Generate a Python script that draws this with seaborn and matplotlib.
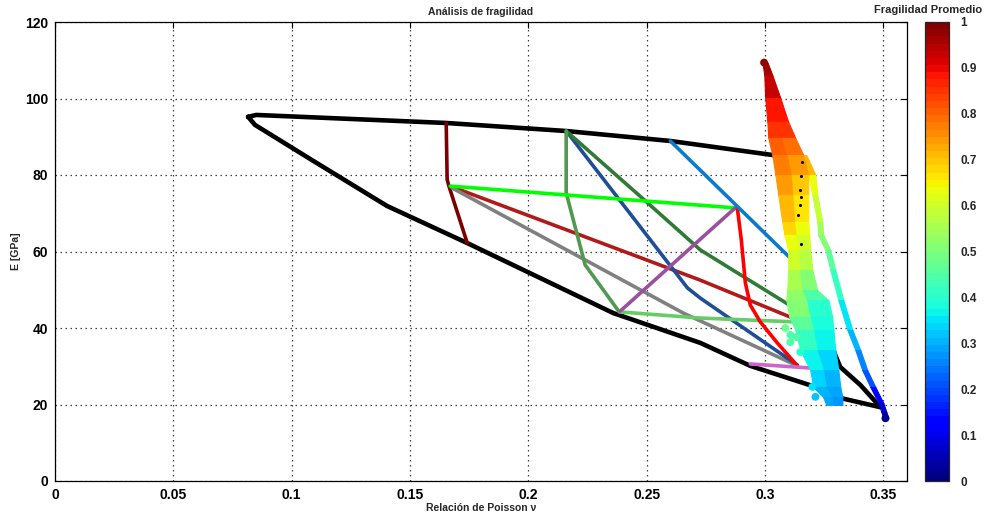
import matplotlib
matplotlib.use('Agg')
import matplotlib.pyplot as plt
import seaborn as sns
import numpy as np
from matplotlib.colors import Normalize
from matplotlib.cm import ScalarMappable

# ---------------- data ----------------
# black envelope
boundary_v = [0.0816, 0.0850, 0.1653, 0.2160, 0.2600, 0.3035, 0.3158, 0.3149, 0.3213,
              0.3297, 0.3318, 0.3403, 0.3479, 0.3487, 0.3263, 0.3213, 0.2938, 0.2727,
              0.2359, 0.1742, 0.1403, 0.1091, 0.0845, 0.0816]
boundary_E = [95.2, 95.7, 93.6, 91.5, 88.9, 85.2, 83.4, 69.5, 47.3,
              32.9, 29.8, 25.1, 19.9, 19.3, 22.5, 24.6, 30.1, 36.1,
              43.9, 62.2, 71.9, 83.7, 93.1, 95.2]

maroon_v = [0.1653, 0.1657, 0.1665, 0.1742]
maroon_E = [93.6, 78.8, 77.0, 62.2]
lime_v = [0.1670, 0.2874]
lime_E = [77.1, 71.4]
firebrick_v = [0.1678, 0.2727, 0.3137]
firebrick_E = [76.9, 52.5, 42.1]
gray_v = [0.1678, 0.2655, 0.3137]
gray_E = [76.6, 43.9, 30.1]
medgreen_v = [0.2160, 0.2160, 0.2240, 0.2384]
medgreen_E = [91.5, 75.3, 56.5, 44.2]
navy_v = [0.2164, 0.2672, 0.2727, 0.3137]
navy_E = [91.2, 50.5, 47.8, 30.3]
darkgreen_v = [0.2160, 0.2486, 0.2727, 0.3137]
darkgreen_E = [91.5, 73.7, 60.4, 44.7]
lightgreen_v = [0.2388, 0.2727, 0.3128]
lightgreen_E = [44.2, 42.6, 41.6]
purple_v = [0.2388, 0.2874]
purple_E = [44.4, 71.4]
red_v = [0.2883, 0.2900, 0.2917, 0.2938, 0.2980, 0.3052, 0.3137]
red_E = [71.4, 63.0, 51.8, 46.0, 41.6, 36.1, 30.1]
blue_v = [0.2600, 0.3128]
blue_E = [88.9, 57.0]
orchid_v = [0.2938, 0.3200]
orchid_E = [30.6, 29.5]

# main point cloud, described row by row:
# E level, left / middle / right edge, fragility on the left and right half
cloud_E = [109.5, 106.1, 100.1, 93.9, 89.7, 85.2, 80.0, 74.8, 67.7, 64.3, 60.4,
           55.2, 49.9, 47.3, 42.9, 39.5, 34.2, 29.0, 24.6, 21.9, 19.9]
cloud_left = [0.2989, 0.2997, 0.3001, 0.3010, 0.3014, 0.3031, 0.3044, 0.3056, 0.3073,
              0.3082, 0.3098, 0.3098, 0.3094, 0.3090, 0.3103, 0.3128, 0.3149, 0.3191,
              0.3204, 0.3246, 0.3259]
cloud_mid = [0.2999, 0.3014, 0.3033, 0.3054, 0.3071, 0.3096, 0.3113, 0.3120, 0.3128,
             0.3134, 0.3145, 0.3149, 0.3158, 0.3179, 0.3193, 0.3208, 0.3223, 0.3250,
             0.3261, 0.3286, 0.3293]
cloud_right = [0.3010, 0.3031, 0.3065, 0.3098, 0.3128, 0.3162, 0.3183, 0.3183, 0.3183,
               0.3187, 0.3191, 0.3200, 0.3221, 0.3268, 0.3284, 0.3289, 0.3297, 0.3310,
               0.3318, 0.3327, 0.3327]
cloud_frag_left = [0.97, 0.95, 0.91, 0.87, 0.83, 0.79, 0.76, 0.73, 0.69, 0.66, 0.62,
                   0.58, 0.54, 0.52, 0.48, 0.44, 0.39, 0.35, 0.32, 0.30, 0.28]
cloud_frag_right = [0.97, 0.95, 0.91, 0.87, 0.82, 0.77, 0.72, 0.68, 0.64, 0.62, 0.59,
                    0.54, 0.47, 0.42, 0.39, 0.37, 0.35, 0.32, 0.30, 0.28, 0.27]

# thin trail on the right of the cloud
trail_E = [85.2, 80.0, 74.8, 67.7, 64.3, 60.4, 55.2, 47.3, 39.5, 34.2, 29.0, 24.6,
           20.4, 18.0, 16.5]
trail_left = [0.3162, 0.3183, 0.3200, 0.3221, 0.3225, 0.3255, 0.3276, 0.3310, 0.3348,
              0.3382, 0.3411, 0.3445, 0.3479, 0.3492, 0.3500]
trail_right = [0.3175, 0.3213, 0.3221, 0.3242, 0.3246, 0.3276, 0.3297, 0.3331, 0.3369,
               0.3403, 0.3432, 0.3466, 0.3500, 0.3513, 0.3521]
trail_frag = [0.75, 0.66, 0.61, 0.56, 0.52, 0.48, 0.44, 0.38, 0.32, 0.28, 0.24, 0.17,
              0.10, 0.05, 0.02]

# loose points
dots_v = [0.3086, 0.3107, 0.3132, 0.3107, 0.3149, 0.3200, 0.3213, 0.3509, 0.2996]
dots_E = [40.0, 38.2, 37.6, 36.3, 33.7, 24.6, 22.0, 16.4, 109.4]
dots_frag = [0.47, 0.45, 0.45, 0.44, 0.40, 0.35, 0.32, 0.02, 0.97]

specks_v = [0.3158, 0.3153, 0.3149, 0.3153, 0.3149, 0.3140, 0.3153]
specks_E = [83.4, 79.7, 76.1, 74.2, 72.2, 69.5, 62.0]

x_ticks = [0, 0.05, 0.1, 0.15, 0.2, 0.25, 0.3, 0.35]
x_ticklabels = ['0', '0.05', '0.1', '0.15', '0.2', '0.25', '0.3', '0.35']
y_ticks = [0, 20, 40, 60, 80, 100, 120]
cb_ticks = [0, 0.1, 0.2, 0.3, 0.4, 0.5, 0.6, 0.7, 0.8, 0.9, 1.0]
cb_ticklabels = ['0', '0.1', '0.2', '0.3', '0.4', '0.5', '0.6', '0.7', '0.8', '0.9', '1']

# ---------------- figure ----------------
sns.set_style('white')
plt.rcParams['font.family'] = ['Liberation Sans', 'DejaVu Sans']
plt.rcParams['font.weight'] = 'bold'

W, H = 994, 516
fig = plt.figure(figsize=(W / 100, H / 100), dpi=100)
ax = fig.add_axes([55 / W, 35 / H, 852 / W, 459 / H])
cax = fig.add_axes([925 / W, 35 / H, 24 / W, 459 / H])

cmap = plt.get_cmap('jet', 64)
norm = Normalize(0, 1)


def draw_line(v, E, color, lw):
    sns.lineplot(x=v, y=E, sort=False, estimator=None, color=color, linewidth=lw, ax=ax)
    ln = ax.lines[-1]
    ln.set_solid_joinstyle('round')
    ln.set_solid_capstyle('round')


draw_line(boundary_v, boundary_E, 'black', 3.3)
draw_line(maroon_v, maroon_E, '#7a0000', 2.6)
draw_line(firebrick_v, firebrick_E, '#b01a1a', 2.6)
draw_line(gray_v, gray_E, '#808080', 2.6)
draw_line(navy_v, navy_E, '#1f4e96', 2.6)
draw_line(darkgreen_v, darkgreen_E, '#2f7a34', 2.6)
draw_line(medgreen_v, medgreen_E, '#4f9a4f', 2.6)
draw_line(lightgreen_v, lightgreen_E, '#66cc66', 2.6)
draw_line(lime_v, lime_E, '#00ff00', 2.6)
draw_line(purple_v, purple_E, '#9b4f9f', 2.6)
draw_line(red_v, red_E, '#ff0000', 2.6)
draw_line(blue_v, blue_E, '#0a7acc', 2.6)
draw_line(orchid_v, orchid_E, '#cc66cc', 2.6)


def band(E, a, b, fr):
    for i in range(len(E) - 1):
        c = cmap(norm((fr[i] + fr[i + 1]) / 2))
        ax.fill_betweenx([E[i], E[i + 1]], [a[i], a[i + 1]], [b[i], b[i + 1]],
                         color=c, linewidth=0.8, edgecolor=c, zorder=5)


band(trail_E, trail_left, trail_right, trail_frag)
band(cloud_E, cloud_left, cloud_mid, cloud_frag_left)
band(cloud_E, cloud_mid, cloud_right, cloud_frag_right)

sns.scatterplot(x=dots_v, y=dots_E, hue=dots_frag, palette=cmap, hue_norm=norm,
                s=32, linewidth=0, legend=False, ax=ax, zorder=6)
sns.scatterplot(x=specks_v, y=specks_E, color='black', s=5, linewidth=0,
                legend=False, ax=ax, zorder=7)

# axes styling (MATLAB look)
ax.set_xlim(0, 0.36)
ax.set_ylim(0, 120)
ax.set_xticks(x_ticks)
ax.set_xticklabels(x_ticklabels)
ax.set_yticks(y_ticks)
ax.grid(True, linestyle=(0, (1.2, 2.8)), color='#404040', linewidth=0.9)
ax.set_axisbelow(True)
for s in ax.spines.values():
    s.set_color('black')
    s.set_linewidth(0.9)
ax.tick_params(direction='in', length=4, width=0.8, top=True, right=True,
               labelsize=10, pad=5, colors='black')
for lab in ax.get_xticklabels() + ax.get_yticklabels():
    lab.set_fontweight('bold')

ax.set_title('Análisis de fragilidad', fontsize=7.5, fontweight='bold', pad=5)
ax.set_xlabel('Relación de Poisson ν', fontsize=7.5, fontweight='bold', labelpad=1)
ax.set_ylabel('E [GPa]', fontsize=7.5, fontweight='bold', labelpad=3)

# colorbar
sm = ScalarMappable(norm=norm, cmap=cmap)
cb = fig.colorbar(sm, cax=cax, ticks=cb_ticks)
cb.set_ticklabels(cb_ticklabels)
cb.outline.set_linewidth(0.9)
cax.tick_params(direction='in', length=3, width=0.8, left=True, right=True,
                labelsize=8.5, pad=8)
for lab in cax.get_yticklabels():
    lab.set_fontweight('bold')
fig.text(928 / W, 1 - 10 / H, 'Fragilidad Promedio', ha='center', va='center',
         fontsize=8, fontweight='bold')

fig.savefig('out.png', dpi=100)
